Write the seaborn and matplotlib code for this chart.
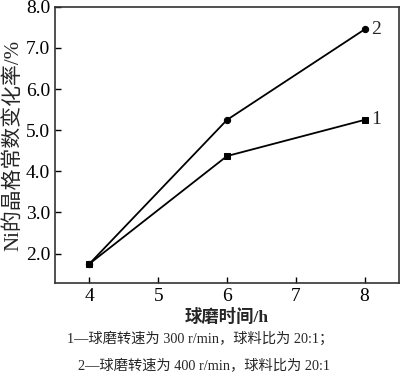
import seaborn as sns
import matplotlib.pyplot as plt
import pandas as pd

# ball milling time (h)
hours = [4, 6, 8]
# lattice constant change of Ni (%)
series1 = [1.75, 4.37, 5.25]   # 300 r/min
series2 = [1.75, 5.25, 7.45]   # 400 r/min
series_labels = ['1', '2']
y_ticks = [2.0, 3.0, 4.0, 5.0, 6.0, 7.0, 8.0]
x_ticks = [4, 5, 6, 7, 8]

sns.set_theme(style='ticks')
plt.rcParams['font.family'] = ['Liberation Serif', 'Noto Sans CJK SC']

df = pd.DataFrame({
    'hours': hours * 2,
    'value': series1 + series2,
    'series': [series_labels[0]] * 3 + [series_labels[1]] * 3,
})

fig = plt.figure(figsize=(4.0, 3.78), dpi=100)
ax = fig.add_axes([0.1375, 0.251, 0.86, 0.731])

markers = {'1': 's', '2': 'o'}
for name in series_labels:
    sub = df[df['series'] == name]
    sns.lineplot(data=sub, x='hours', y='value', ax=ax, color='black',
                 marker=markers[name], markersize=4.5, linewidth=1.3,
                 markeredgecolor='black', legend=False)
    last = sub.iloc[-1]
    ax.text(last['hours'] + 0.09, last['value'], name, fontsize=14,
            va='center', ha='left')

ax.set_xlim(3.5, 8.5)
ax.set_ylim(1.28, 8.0)
ax.set_xticks(x_ticks)
ax.set_yticks(y_ticks)
ax.set_yticklabels([f'{v:.1f}' for v in y_ticks])
ax.tick_params(direction='in', length=4, width=1, labelsize=14, colors='black')
for sp in ax.spines.values():
    sp.set_color('#333333')
    sp.set_linewidth(1.2)

ax.set_xlabel('球磨时间/h', fontsize=12.5, labelpad=3, fontweight='bold')
ax.set_ylabel('Ni的晶格常数变化率/%', fontsize=15, labelpad=2)

fig.text(0.5, 0.103, '1—球磨转速为 300 r/min，球料比为 20:1；', ha='center',
         va='center', fontsize=10.3)
fig.text(0.51, 0.032, '2—球磨转速为 400 r/min，球料比为 20:1', ha='center',
         va='center', fontsize=10.3)

fig.savefig('out.png', dpi=100)
